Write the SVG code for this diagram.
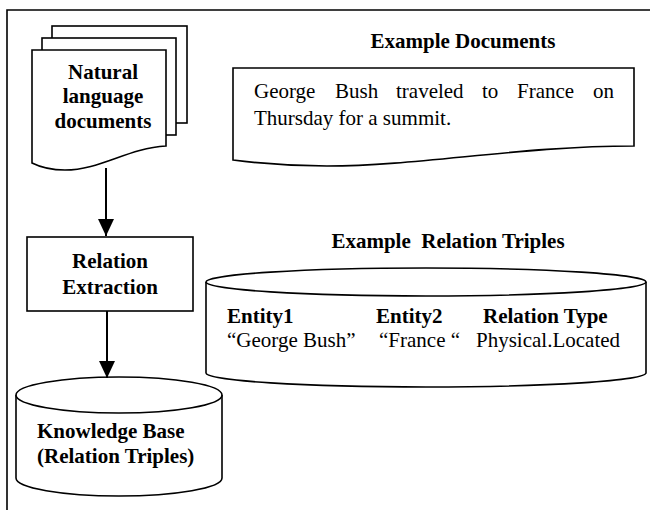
<svg xmlns="http://www.w3.org/2000/svg" width="650" height="510" viewBox="0 0 650 510">
<defs>
<style>
.s{fill:#fff;stroke:#000;stroke-width:1.6}
.t{font-family:"Liberation Serif","Times New Roman",serif;font-size:21px;fill:#000}
.b{font-weight:bold}
.c{text-anchor:middle}
.ln{fill:none;stroke:#000;stroke-width:2}
</style>
<marker id="ah" markerUnits="userSpaceOnUse" markerWidth="18" markerHeight="18" viewBox="0 0 18 18" refX="17" refY="8" orient="auto">
<path d="M0,0 L17,8 L0,16 Z" fill="#000"/>
</marker>
</defs>
<rect width="650" height="510" fill="#fff"/>
<path d="M7,510 V10 H650" fill="none" stroke="#000" stroke-width="1.6"/>

<g id="nl-docs">
<rect class="s" x="52" y="26" width="135" height="97"/>
<rect class="s" x="42" y="38" width="134" height="97"/>
<path class="s" d="M32,50 H166 V146 C128,148 100,170 65,170 Q46,170 32,163 Z"/>
<text class="t b c" x="103" y="79">Natural</text>
<text class="t b c" x="103" y="103">language</text>
<text class="t b c" x="103" y="128">documents</text>
</g>

<g id="relation-extraction">
<rect class="s" x="27" y="237" width="166" height="74"/>
<text class="t b c" x="110" y="268">Relation</text>
<text class="t b c" x="110" y="294">Extraction</text>
</g>

<g id="knowledge-base">
<path class="s" d="M16,395 V478 A103,18 0 0 0 222,478 V395"/>
<ellipse class="s" cx="119" cy="395" rx="103" ry="18"/>
<text class="t b" x="37" y="438">Knowledge Base</text>
<text class="t b" x="37" y="463">(Relation Triples)</text>
</g>

<g id="example-documents">
<text class="t b c" x="463" y="48">Example Documents</text>
<path class="s" d="M233,68 H634 V146 C520,146 420,166 327,166 Q280,166 233,160 Z"/>
<text class="t"><tspan x="254" y="98">George</tspan><tspan x="335" y="98">Bush</tspan><tspan x="396" y="98">traveled</tspan><tspan x="482" y="98">to</tspan><tspan x="517" y="98">France</tspan><tspan x="593" y="98">on</tspan></text>
<text class="t" x="254" y="125">Thursday for a summit.</text>
</g>

<g id="example-triples">
<text class="t b c" x="448" y="248" xml:space="preserve">Example  Relation Triples</text>
<path class="s" d="M206,282 V373 A220,14 0 0 0 646,373 V282"/>
<ellipse class="s" cx="426" cy="282" rx="220" ry="14"/>
<text class="t b" x="227" y="323">Entity1</text>
<text class="t b" x="376" y="323">Entity2</text>
<text class="t b" x="483" y="323">Relation Type</text>
<text class="t" x="227" y="347">“George Bush”</text>
<text class="t" x="379" y="347">“France “</text>
<text class="t" x="476" y="347">Physical.Located</text>
</g>

<g id="connectors">
<line class="ln" x1="106" y1="168" x2="106" y2="236" marker-end="url(#ah)"/>
<line class="ln" x1="107" y1="311" x2="107" y2="378" marker-end="url(#ah)"/>
</g>
</svg>
